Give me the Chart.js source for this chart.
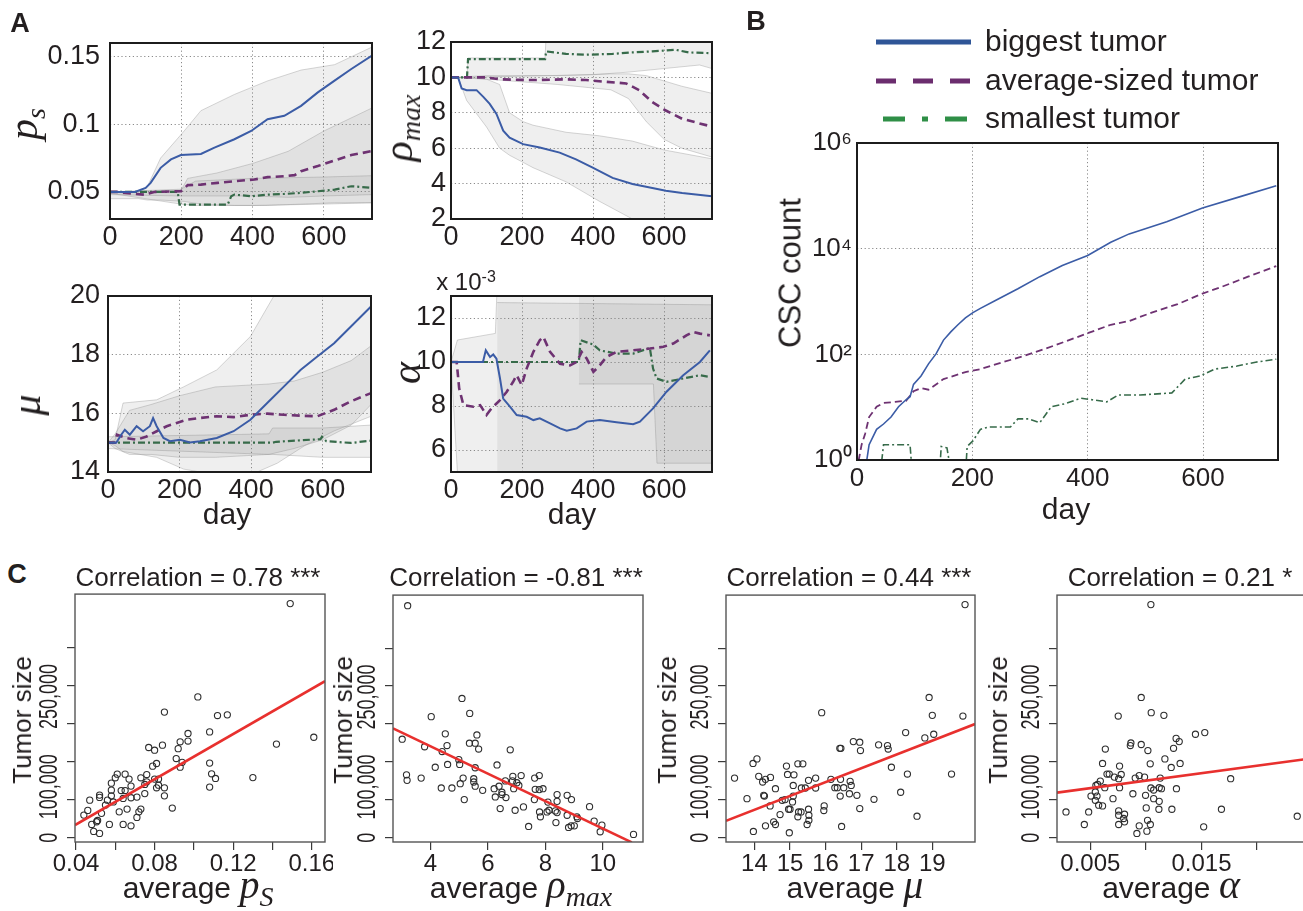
<!DOCTYPE html>
<html><head><meta charset="utf-8">
<script src="https://cdn.jsdelivr.net/npm/chart.js@4.4.1/dist/chart.umd.min.js"></script>
<style>
html,body{margin:0;padding:0;background:#fff;width:1303px;height:911px;overflow:hidden;position:relative;font-family:"Liberation Sans",Arial,Helvetica,sans-serif;color:#231f20}
canvas{position:absolute}
.t{position:absolute;white-space:nowrap;transform:translate(-50%,-50%);line-height:1;z-index:5}
.r{transform:translate(-50%,-50%) rotate(-90deg)}
.m{font-family:"Liberation Serif","DejaVu Serif","Times New Roman",serif;font-style:italic;line-height:0}
.sb{position:relative;top:0.3em}
.sp{position:relative;top:-0.5em}
.b{font-weight:bold}
</style></head><body>
<script>
// ---------------- DATA ----------------
const panelLetters = ['A', 'B', 'C'];
const legendLabels = ['biggest tumor', 'average-sized tumor', 'smallest tumor'];
const cTitles = ['Correlation = 0.78 ***', 'Correlation = -0.81 ***', 'Correlation = 0.44 ***', 'Correlation = 0.21 *'];

const dayTicks = [0, 200, 400, 600];
const dayLabels = ['0', '200', '400', '600'];

// A: p_s
const psTicks = [0.05, 0.1, 0.15];
const psTickLabels = ['0.05', '0.1', '0.15'];
const psBigDay = [0, 70, 100, 114, 142, 171, 199, 227, 255, 293, 349, 396, 442, 489, 536, 583, 630, 677, 735];
const psBigVal = [0.050, 0.050, 0.053, 0.0567, 0.0678, 0.074, 0.0772, 0.0777, 0.078, 0.0827, 0.0889, 0.095, 0.1037, 0.1062, 0.1136, 0.1235, 0.1322, 0.1408, 0.1507];
const psAvgDay = [0, 20, 60, 96, 124, 199, 218, 255, 302, 349, 405, 442, 489, 518, 536, 583, 630, 677, 735];
const psAvgVal = [0.050, 0.050, 0.0488, 0.048, 0.050, 0.0505, 0.055, 0.0554, 0.0567, 0.0579, 0.0592, 0.0609, 0.0616, 0.0624, 0.0653, 0.0691, 0.0733, 0.0772, 0.0802];
const psSmDay = [0, 190, 195, 330, 340, 349, 396, 442, 489, 536, 583, 630, 677, 735];
const psSmVal = [0.050, 0.050, 0.0406, 0.0406, 0.0468, 0.048, 0.0468, 0.048, 0.0485, 0.0493, 0.0505, 0.0517, 0.0542, 0.053];
const psBandBigDay = [0, 80, 105, 142, 208, 255, 349, 442, 536, 630, 735];
const psBandBigHi = [0.050, 0.050, 0.054, 0.075, 0.095, 0.110, 0.122, 0.132, 0.140, 0.144, 0.157];
const psBandBigLo = [0.045, 0.045, 0.044, 0.044, 0.043, 0.041, 0.040, 0.040, 0.041, 0.042, 0.042];
const psBandAvgDay = [0, 199, 218, 300, 400, 500, 600, 735];
const psBandAvgHi = [0.050, 0.051, 0.060, 0.064, 0.071, 0.080, 0.095, 0.112];
const psBandAvgLo = [0.048, 0.047, 0.047, 0.047, 0.047, 0.046, 0.047, 0.048];
const psBandSmDay = [0, 199, 240, 400, 600, 735];
const psBandSmHi = [0.050, 0.052, 0.058, 0.060, 0.061, 0.062];
const psBandSmLo = [0.049, 0.041, 0.040, 0.040, 0.041, 0.042];

// A: rho_max
const rhoTicks = [2, 4, 6, 8, 10, 12];
const rhoTickLabels = ['2', '4', '6', '8', '10', '12'];
const rhoBigDay = [0, 20, 30, 44, 72, 91, 109, 128, 147, 165, 203, 250, 306, 352, 399, 455, 511, 567, 605, 651, 735];
const rhoBigVal = [10, 10, 9.37, 9.28, 9.28, 8.9, 8.5, 7.94, 6.99, 6.6, 6.23, 6.04, 5.75, 5.37, 4.9, 4.32, 3.98, 3.75, 3.6, 3.47, 3.28];
const rhoAvgDay = [0, 100, 137, 231, 324, 380, 436, 493, 530, 567, 605, 651, 698, 735];
const rhoAvgVal = [10, 10, 9.89, 9.85, 9.89, 9.85, 9.75, 9.66, 9.28, 8.6, 8.13, 7.66, 7.41, 7.22];
const rhoSmDay = [0, 45, 48, 265, 268, 324, 380, 455, 511, 567, 605, 633, 670, 735];
const rhoSmVal = [10, 10, 11.03, 11.03, 11.47, 11.33, 11.28, 11.33, 11.41, 11.47, 11.52, 11.56, 11.41, 11.37];
const rhoBandBigDay = [0, 20, 44, 100, 137, 165, 203, 231, 324, 418, 511, 600, 735];
const rhoBandBigHi = [10, 10, 10, 9.9, 9.6, 8.0, 7.5, 7.3, 6.9, 6.7, 6.4, 5.9, 5.4];
const rhoBandBigLo = [10, 10, 8.7, 7.2, 6.0, 5.6, 5.2, 4.9, 4.1, 3.0, 2.0, 1.5, 1.5];
const rhoBandAvgDay = [0, 100, 300, 450, 500, 550, 600, 650, 735];
const rhoBandAvgHi = [10, 10.1, 10.1, 10.2, 10.2, 10.1, 9.8, 9.5, 9.1];
const rhoBandAvgLo = [10, 9.9, 9.6, 9.3, 8.8, 7.5, 6.5, 6.0, 5.5];
const rhoBandSmDay = [0, 45, 48, 265, 268, 400, 500, 600, 700, 735];
const rhoBandSmHi = [10, 10, 11.1, 11.1, 12.5, 12.5, 12.5, 12.5, 12.5, 12.5];
const rhoBandSmLo = [10, 10, 10.0, 10.1, 10.1, 10.15, 10.3, 10.5, 10.7, 10.5];

// A: mu
const muTicks = [14, 16, 18, 20];
const muTickLabels = ['14', '16', '18', '20'];
const muBigDay = [0, 23, 37, 47, 61, 80, 98, 117, 126, 136, 155, 173, 201, 229, 257, 304, 351, 398, 445, 492, 538, 585, 632, 679, 735];
const muBigVal = [15, 15, 15.27, 15.44, 15.27, 15.56, 15.39, 15.56, 15.84, 15.56, 15.16, 15.05, 15.1, 15.01, 15.05, 15.16, 15.39, 15.78, 16.35, 16.92, 17.48, 17.94, 18.39, 18.96, 19.64];
const muAvgDay = [0, 19, 25, 51, 80, 108, 136, 164, 192, 220, 257, 304, 351, 398, 445, 492, 538, 585, 604, 632, 679, 735];
const muAvgVal = [15, 15, 15.27, 15.16, 15.1, 15.21, 15.39, 15.56, 15.67, 15.78, 15.84, 15.9, 15.87, 15.95, 15.99, 15.95, 15.92, 15.9, 15.99, 16.12, 16.41, 16.69];
const muSmDay = [0, 460, 470, 538, 594, 598, 610, 679, 735];
const muSmVal = [15, 15, 15.03, 15.08, 15.12, 15.2, 15.05, 14.99, 15.07];
const muBandBigDay = [0, 20, 42, 136, 211, 304, 398, 473, 550, 632, 735];
const muBandBigHi = [15, 15.1, 16.35, 16.46, 16.9, 17.48, 18.62, 20.2, 20.5, 20.5, 20.5];
const muBandBigLo = [15, 14.9, 14.7, 14.5, 14.1, 13.9, 13.9, 14.3, 14.9, 15.4, 15.9];
const muBandAvgDay = [0, 20, 60, 120, 200, 300, 450, 520, 600, 680, 735];
const muBandAvgHi = [15, 15.3, 16.1, 16.3, 16.6, 16.9, 17.0, 17.1, 17.4, 17.8, 18.3];
const muBandAvgLo = [15, 14.8, 14.6, 14.6, 14.5, 14.5, 14.6, 14.8, 15.1, 15.6, 16.3];
const muBandSmDay = [0, 450, 460, 600, 735];
const muBandSmHi = [15.2, 15.3, 15.5, 15.5, 15.6];
const muBandSmLo = [14.8, 14.6, 14.6, 14.5, 14.5];

// A: alpha (x 10^-3)
const alTicks = [6, 8, 10, 12];
const alTickLabels = ['6', '8', '10', '12'];
const alBigDay = [0, 90, 98, 110, 119, 128, 138, 147, 166, 185, 213, 232, 250, 279, 307, 326, 354, 382, 419, 466, 513, 532, 569, 607, 654, 701, 729];
const alBigVal = [10, 10, 10.53, 10.23, 10.34, 10.15, 9.25, 8.34, 7.97, 7.59, 7.51, 7.36, 7.44, 7.21, 6.98, 6.88, 6.98, 7.29, 7.36, 7.26, 7.17, 7.29, 7.89, 8.65, 9.4, 10, 10.53];
const alAvgDay = [0, 16, 23, 35, 63, 82, 100, 114, 138, 157, 175, 185, 199, 213, 232, 250, 260, 279, 307, 335, 354, 368, 382, 401, 419, 438, 466, 513, 560, 598, 626, 663, 682, 701, 729];
const alAvgVal = [10, 10, 8.8, 8.04, 7.97, 8.04, 7.59, 7.89, 8.27, 8.65, 9.1, 9.4, 8.95, 9.7, 10.46, 10.99, 11.14, 10.46, 9.92, 9.85, 10, 10.46, 10.16, 9.55, 9.85, 10.23, 10.46, 10.53, 10.61, 10.69, 10.84, 11.21, 11.37, 11.29, 11.21];
const alSmDay = [0, 360, 365, 401, 419, 466, 513, 560, 569, 579, 607, 654, 701, 729];
const alSmVal = [10, 10, 10.99, 10.79, 10.53, 10.38, 10.38, 10.64, 9.7, 9.25, 9.1, 9.25, 9.4, 9.32];
const alBandBigDay = [0, 18, 125, 130, 735];
const alBandBigHi = [10, 11.0, 11.3, 13.5, 13.5];
const alBandBigLo = [10, 5.0, 4.5, 4.5, 4.5];
const alBandAvgDay = [130, 135, 735];
const alBandAvgHi = [12.7, 12.7, 12.6];
const alBandAvgLo = [4.5, 4.5, 4.5];
const alBandSmDay = [360, 365, 570, 580, 735];
const alBandSmHi = [13.5, 13.5, 13.5, 13.5, 13.5];
const alBandSmLo = [9.0, 9.0, 9.0, 5.4, 5.4];

// B: CSC count (log)
const bYTicks = [1, 100, 10000, 1000000];
const bYLabels = ['10\u2070', '10\u00b2', '10\u2074', '10\u2076'];
const bBigDay = [16, 17, 21, 34, 46, 59, 72, 85, 92, 98, 111, 124, 137, 150, 163, 175, 188, 201, 214, 240, 279, 317, 356, 400, 440, 472, 537, 599, 666, 727];
const bBigVal = [0.6, 1, 1.95, 3.8, 4.8, 6.5, 10.2, 13.8, 15.8, 27, 39, 66, 102, 186, 269, 363, 490, 617, 741, 1047, 1738, 2951, 4786, 7413, 13183, 19055, 32359, 58884, 97724, 154882];
const bAvgDay = [1, 3, 8, 14, 21, 34, 46, 66, 85, 98, 111, 124, 150, 188, 214, 253, 292, 343, 400, 440, 472, 511, 556, 599, 633, 678, 727];
const bAvgVal = [0.6, 1, 1.95, 3.1, 6.5, 10.2, 12, 12.6, 13.2, 20, 23, 21.4, 34, 46, 52.5, 71, 95, 148, 251, 363, 427, 617, 891, 1413, 1905, 2951, 4677];
const bSmDay = [40, 46, 92, 96, 143, 146, 156, 164, 188, 191, 201, 214, 227, 266, 279, 298, 317, 337, 362, 388, 408, 433, 453, 491, 546, 569, 595, 620, 659, 691, 727];
const bSmVal = [0.5, 1.95, 1.95, 0.5, 0.5, 1.8, 1.7, 0.5, 0.5, 1.8, 2.3, 3.8, 4.2, 4.2, 6, 6, 5.1, 10.2, 11.7, 14.8, 13.8, 12.6, 17, 17, 18.6, 34, 39, 52.5, 60, 71, 81];

// C: scatter (x = average parameter, y = tumor size)
const cYTicks = [0, 50000, 100000, 150000, 200000, 250000];
const cYLabelPos = [0, 67000, 185500];
const cYLabels = ['0', '100,000', '250,000'];
const c1XTicks = [0.04, 0.06, 0.08, 0.10, 0.12, 0.14, 0.16];
const c1XLabels = ['0.04', '', '0.08', '', '0.12', '', '0.16'];
const c2XTicks = [4, 6, 8, 10];
const c2XLabels = ['4', '6', '8', '10'];
const c3XTicks = [14, 15, 16, 17, 18, 19];
const c3XLabels = ['14', '15', '16', '17', '18', '19'];
const c4XTicks = [0.005, 0.010, 0.015, 0.020];
const c4XLabels = ['0.005', '', '0.015', ''];

const c1Points = [[0.149,307500],[0.102,185000],[0.085,165000],[0.112,160500],[0.117,161400],[0.161,132000],[0.142,123000],[0.108,139000],[0.097,137000],[0.097,127000],[0.093,126000],[0.092,117000],[0.084,121600],[0.077,118500],[0.080,115000],[0.091,104000],[0.094,99000],[0.093,92700],[0.081,97500],[0.079,94000],[0.108,98000],[0.109,84000],[0.111,77900],[0.108,66500],[0.130,79000],[0.076,83000],[0.073,78700],[0.080,77000],[0.082,77000],[0.082,69000],[0.081,65600],[0.085,65600],[0.075,70000],[0.075,58000],[0.085,55000],[0.089,39000],[0.065,83500],[0.061,83500],[0.067,77000],[0.068,67800],[0.060,78700],[0.058,71700],[0.058,62500],[0.063,62000],[0.065,62000],[0.058,55000],[0.056,49400],[0.055,42900],[0.053,32000],[0.051,22700],[0.048,17500],[0.049,8300],[0.052,5700],[0.057,17500],[0.064,17500],[0.068,15700],[0.062,34000],[0.066,37600],[0.071,26700],[0.072,34000],[0.073,37600],[0.068,52500],[0.071,53400],[0.064,51600],[0.052,56000],[0.052,53000],[0.047,49400],[0.046,35900],[0.044,29700],[0.059,47000],[0.0505,21000],[0.076,73500]];
const c2Points = [[3.21,306000],[5.10,183700],[5.37,164000],[4.03,159700],[4.52,137000],[3.02,130000],[3.80,120000],[4.58,121600],[5.36,124700],[5.56,124700],[5.62,135600],[5.68,117000],[6.78,116000],[4.41,113700],[4.99,103000],[5.02,96700],[4.17,93000],[4.60,96700],[5.56,92300],[6.32,96000],[3.17,83000],[3.19,75700],[3.68,78700],[5.14,78700],[5.51,77900],[5.51,73500],[5.56,68000],[5.04,71300],[5.82,62500],[4.38,65600],[4.75,65600],[5.18,50300],[6.22,64700],[6.39,68000],[6.49,60000],[6.26,53800],[6.63,53000],[6.49,57000],[6.61,75000],[6.87,81000],[6.86,75000],[7.01,72600],[7.08,69000],[6.90,64700],[7.16,82000],[6.43,38500],[6.95,36300],[7.24,40700],[7.42,14900],[7.63,78700],[7.79,82000],[7.65,63900],[7.79,63500],[7.92,64700],[7.62,50300],[7.80,34000],[7.83,27600],[8.09,47000],[8.13,36300],[8.35,35400],[8.41,33200],[8.37,20000],[8.41,56900],[8.41,48000],[8.76,56000],[8.91,50300],[8.76,29700],[8.81,13600],[8.90,15700],[9.01,15700],[9.10,27600],[9.12,25400],[9.54,41000],[9.70,21900],[9.97,16600],[9.91,7900],[11.07,4400],[8.06,34000]];
const c3Points = [[19.92,307500],[18.91,185000],[15.89,165000],[19.0,161400],[19.86,160500],[18.25,138700],[18.79,131700],[19.04,136500],[16.78,126800],[16.96,126000],[16.40,118000],[16.98,115000],[17.49,122500],[17.74,121600],[17.76,117000],[17.85,93000],[18.30,84000],[19.54,84000],[18.11,60000],[18.57,28400],[17.36,50700],[16.96,38500],[13.44,78700],[13.79,51600],[13.96,98000],[14.07,104000],[14.12,81000],[14.23,73500],[14.31,77000],[14.45,79600],[14.26,56000],[14.28,55000],[14.44,42000],[14.59,64700],[14.31,15700],[14.54,21000],[14.59,17500],[13.97,8300],[14.72,30600],[14.78,49400],[14.86,50300],[14.90,94500],[14.93,83500],[14.96,37600],[15.0,37600],[14.98,6600],[15.07,47200],[15.09,69000],[15.11,83000],[15.09,55000],[15.22,97500],[15.36,97500],[15.22,27600],[15.24,34000],[15.31,34000],[15.32,65600],[15.43,65600],[15.48,17500],[15.52,37600],[15.53,23000],[15.53,29700],[15.52,75700],[15.72,78700],[15.72,65600],[15.96,42000],[15.95,35900],[16.15,77000],[16.26,66000],[16.33,66000],[16.41,55000],[16.42,77000],[16.45,14900],[16.51,66000],[16.67,58000],[16.69,74400],[16.72,69000],[16.43,118000],[16.88,56000]];
const c4Points = [[0.01045,307500],[0.00958,185000],[0.01048,165000],[0.00751,160500],[0.01162,161400],[0.01446,136500],[0.0153,138700],[0.01272,131000],[0.013,126800],[0.01249,118000],[0.00865,125000],[0.0086,121600],[0.00958,123000],[0.01018,115000],[0.00635,117000],[0.01171,104000],[0.01039,97500],[0.01308,98000],[0.01228,92700],[0.0061,98000],[0.00763,94500],[0.0065,84000],[0.0067,84000],[0.00778,83500],[0.00716,80000],[0.00755,77900],[0.00904,78700],[0.0094,82000],[0.00988,80000],[0.01129,78700],[0.01763,77900],[0.00566,70400],[0.0059,74800],[0.0055,69000],[0.0063,66000],[0.00763,66000],[0.01045,65600],[0.0107,63000],[0.0112,66000],[0.0114,64700],[0.01275,64700],[0.00545,60400],[0.00506,55000],[0.0056,55000],[0.00545,49400],[0.00575,42900],[0.0061,42000],[0.00704,51600],[0.00883,58000],[0.00997,56000],[0.0107,51600],[0.0112,48000],[0.01003,39400],[0.01117,37600],[0.01234,37600],[0.00755,35400],[0.00755,29700],[0.00808,31000],[0.008,25400],[0.00808,21000],[0.00755,17500],[0.0094,15700],[0.00919,5700],[0.01009,8700],[0.01015,23000],[0.0104,17500],[0.00446,17500],[0.00485,34000],[0.00281,34000],[0.0152,14400],[0.0168,37600],[0.02362,28400]];
const c1Line = [[0.0395,16600],[0.1667,205600]];
const c2Line = [[2.70,144300],[11.01,-6100]];
const c3Line = [[13.2,22300],[20.2,150000]];
const c4Line = [[0.002,59500],[0.0245,103900]];

// ---------------- STYLE / HELPERS ----------------
const SANS = '"Liberation Sans", Arial, Helvetica, sans-serif';
const INK = '#231f20';
const GRID = '#8a8a8a';
const BLUE = '#3b5ca6', PURPLE = '#6e3272', GREEN = '#376b4a';
const BAND_FILL = 'rgba(130,130,130,0.13)', BAND_EDGE = 'rgba(140,140,140,0.45)';

function pts(xs, ys) { return xs.map((x, i) => ({x: x, y: ys[i]})); }
function pairPts(arr) { return arr.map(p => ({x: p[0], y: p[1]})); }
function zeroPad(s) { s.paddingLeft = 0; s.paddingRight = 0; s.paddingTop = 0; s.paddingBottom = 0; }

function makeCanvas(id, box, m) {
  const c = document.createElement('canvas');
  c.id = id;
  const W = (box.r - box.l) + m.l + m.r, H = (box.b - box.t) + m.t + m.b;
  c.width = W; c.height = H;
  c.style.left = (box.l - m.l) + 'px'; c.style.top = (box.t - m.t) + 'px';
  c.style.width = W + 'px'; c.style.height = H + 'px';
  document.body.appendChild(c);
  return c;
}
function framePlugin(color, width) {
  return { id: 'frame', afterDraw(chart) {
    const a = chart.chartArea, ctx = chart.ctx;
    ctx.save(); ctx.setLineDash([]); ctx.strokeStyle = color; ctx.lineWidth = width;
    ctx.strokeRect(a.left, a.top, a.right - a.left, a.bottom - a.top); ctx.restore();
  }};
}

function seriesChart(id, box, m, yW, xH, xMax, y, lines, bands, fs, extraPlugins) {
  const cv = makeCanvas(id, box, m);
  const ds = [];
  lines.forEach(l => ds.push({data: pts(l.days, l.vals), borderColor: l.color, borderWidth: l.width,
    borderDash: l.dash || [], pointRadius: 0, fill: false, order: 0, tension: 0}));
  bands.forEach(b => {
    ds.push({data: pts(b.days, b.hi), borderColor: BAND_EDGE, borderWidth: 0.8, pointRadius: 0, fill: false, order: 5});
    ds.push({data: pts(b.days, b.lo), borderColor: BAND_EDGE, borderWidth: 0.8, pointRadius: 0, fill: '-1', backgroundColor: BAND_FILL, order: 5});
  });
  new Chart(cv, {
    type: 'line',
    data: {datasets: ds},
    options: {
      responsive: false, animation: false, events: [],
      layout: {padding: {left: m.l - yW, top: m.t, right: m.r, bottom: m.b - xH}},
      plugins: {legend: {display: false}, tooltip: {enabled: false}},
      scales: {
        x: {type: 'linear', min: 0, max: xMax,
          afterBuildTicks: s => { s.ticks = dayTicks.map(v => ({value: v})); },
          afterFit: s => { s.height = xH; zeroPad(s); },
          ticks: {autoSkip: false, maxRotation: 0, minRotation: 0, padding: y.xPad, color: INK,
            font: {family: SANS, size: fs}, callback: (v, i) => dayLabels[i]},
          grid: {color: GRID, lineWidth: 1, drawTicks: false},
          border: {display: false, dash: [1.2, 2.6]}},
        y: {type: y.type || 'linear', min: y.min, max: y.max,
          afterBuildTicks: s => { s.ticks = y.ticks.map(v => ({value: v})); },
          afterFit: s => { s.width = yW; zeroPad(s); },
          ticks: {autoSkip: false, padding: y.pad, color: INK, font: {family: SANS, size: fs},
            callback: (v, i) => y.labels[i]},
          grid: {color: GRID, lineWidth: 1, drawTicks: false},
          border: {display: false, dash: [1.2, 2.6]}}
      }
    },
    plugins: [framePlugin('#1c1c1c', 2)].concat(extraPlugins || [])
  });
}

function rotYLabels(values, labels, offset, font, squeeze) {
  return { id: 'rotY', afterDraw(chart) {
    const ctx = chart.ctx, sc = chart.scales.y, a = chart.chartArea;
    ctx.save(); ctx.font = font; ctx.fillStyle = INK; ctx.textAlign = 'center'; ctx.textBaseline = 'middle';
    values.forEach((v, i) => {
      ctx.save(); ctx.translate(a.left - offset, sc.getPixelForValue(v)); ctx.rotate(-Math.PI / 2);
      ctx.scale(squeeze, 1);
      ctx.fillText(labels[i], 0, 0); ctx.restore();
    });
    ctx.restore();
  }};
}

function scatterChart(id, box, m, xMin, xMax, xTicks, xLabels, points, line) {
  const cv = makeCanvas(id, box, m);
  const yW = 50, xH = 40;
  new Chart(cv, {
    type: 'scatter',
    data: {datasets: [
      {data: pairPts(line), showLine: true, borderColor: '#e8302e', borderWidth: 2.6, pointRadius: 0, fill: false},
      {data: pairPts(points), pointRadius: 3.1, pointBorderWidth: 1.1, borderColor: '#2e2e2e',
        backgroundColor: 'rgba(0,0,0,0)', pointBackgroundColor: 'rgba(0,0,0,0)', pointBorderColor: '#2e2e2e'}
    ]},
    options: {
      responsive: false, animation: false, events: [],
      layout: {padding: {left: m.l - yW, top: m.t, right: m.r, bottom: m.b - xH}},
      plugins: {legend: {display: false}, tooltip: {enabled: false}},
      scales: {
        x: {type: 'linear', min: xMin, max: xMax,
          afterBuildTicks: s => { s.ticks = xTicks.map(v => ({value: v})); },
          afterFit: s => { s.height = xH; zeroPad(s); },
          ticks: {autoSkip: false, maxRotation: 0, minRotation: 0, padding: 0, color: INK,
            font: {family: SANS, size: 24}, callback: (v, i) => xLabels[i]},
          grid: {drawOnChartArea: false, drawTicks: true, tickLength: 8, color: '#3a3a3a', lineWidth: 1.2},
          border: {display: false}},
        y: {type: 'linear', min: -5600, max: 320000,
          afterBuildTicks: s => { s.ticks = cYTicks.map(v => ({value: v})); },
          afterFit: s => { s.width = yW; zeroPad(s); },
          ticks: {autoSkip: false, callback: () => ''},
          grid: {drawOnChartArea: false, drawTicks: true, tickLength: 8, color: '#3a3a3a', lineWidth: 1.2},
          border: {display: false}}
      }
    },
    plugins: [framePlugin('#555555', 1.4), rotYLabels(cYLabelPos, cYLabels, 25, '25px ' + SANS, 0.72)]
  });
}

const lineA = (days, vals, kind) => kind === 0 ? {days, vals, color: BLUE, width: 2}
  : kind === 1 ? {days, vals, color: PURPLE, width: 2.6, dash: [8, 5]}
  : {days, vals, color: GREEN, width: 2.2, dash: [7, 3, 2, 3]};

// ---------------- PANEL A ----------------
seriesChart('a1', {l: 110, t: 43, r: 372, b: 219}, {l: 110, t: 15, r: 12, b: 45}, 75, 40, 735,
  {min: 0.03, max: 0.16, ticks: psTicks, labels: psTickLabels, pad: 10, xPad: 2},
  [lineA(psBigDay, psBigVal, 0), lineA(psAvgDay, psAvgVal, 1), lineA(psSmDay, psSmVal, 2)],
  [{days: psBandBigDay, hi: psBandBigHi, lo: psBandBigLo}, {days: psBandAvgDay, hi: psBandAvgHi, lo: psBandAvgLo}, {days: psBandSmDay, hi: psBandSmHi, lo: psBandSmLo}], 27);

seriesChart('a2', {l: 451, t: 42, r: 712, b: 219}, {l: 75, t: 15, r: 12, b: 45}, 60, 40, 735,
  {min: 2, max: 12, ticks: rhoTicks, labels: rhoTickLabels, pad: 5, xPad: 2},
  [lineA(rhoBigDay, rhoBigVal, 0), lineA(rhoAvgDay, rhoAvgVal, 1), lineA(rhoSmDay, rhoSmVal, 2)],
  [{days: rhoBandBigDay, hi: rhoBandBigHi, lo: rhoBandBigLo}, {days: rhoBandAvgDay, hi: rhoBandAvgHi, lo: rhoBandAvgLo}, {days: rhoBandSmDay, hi: rhoBandSmHi, lo: rhoBandSmLo}], 27);

seriesChart('a3', {l: 108, t: 296, r: 371, b: 472}, {l: 108, t: 15, r: 12, b: 45}, 75, 40, 735,
  {min: 14, max: 20, ticks: muTicks, labels: muTickLabels, pad: 8, xPad: 2},
  [lineA(muBigDay, muBigVal, 0), lineA(muAvgDay, muAvgVal, 1), lineA(muSmDay, muSmVal, 2)],
  [{days: muBandBigDay, hi: muBandBigHi, lo: muBandBigLo}, {days: muBandAvgDay, hi: muBandAvgHi, lo: muBandAvgLo}, {days: muBandSmDay, hi: muBandSmHi, lo: muBandSmLo}], 27);

seriesChart('a4', {l: 451, t: 296, r: 712, b: 472}, {l: 75, t: 15, r: 12, b: 45}, 60, 40, 735,
  {min: 5, max: 13, ticks: alTicks, labels: alTickLabels, pad: 5, xPad: 2},
  [lineA(alBigDay, alBigVal, 0), lineA(alAvgDay, alAvgVal, 1), lineA(alSmDay, alSmVal, 2)],
  [{days: alBandBigDay, hi: alBandBigHi, lo: alBandBigLo}, {days: alBandAvgDay, hi: alBandAvgHi, lo: alBandAvgLo}, {days: alBandSmDay, hi: alBandSmHi, lo: alBandSmLo}], 27);

// ---------------- PANEL B ----------------
const bLegend = { id: 'bLegend', afterDraw(chart) {
  const ctx = chart.ctx, a = chart.chartArea;
  const rows = [a.top - 101, a.top - 62, a.top - 24];
  const styles = [
    {c: '#2f5597', d: [], x0: 19, x1: 114},
    {c: '#6b2d6e', d: [20, 17], x0: 19, x1: 114},
    {c: '#2f8f47', d: [22, 17, 6, 17], x0: 26, x1: 110}
  ];
  ctx.save();
  styles.forEach((s, i) => {
    ctx.beginPath(); ctx.setLineDash(s.d); ctx.strokeStyle = s.c; ctx.lineWidth = 5; ctx.lineCap = 'butt';
    ctx.moveTo(a.left + s.x0, rows[i]); ctx.lineTo(a.left + s.x1, rows[i]); ctx.stroke();
  });
  ctx.setLineDash([]); ctx.fillStyle = INK; ctx.font = '30px ' + SANS; ctx.textAlign = 'left'; ctx.textBaseline = 'middle';
  legendLabels.forEach((t, i) => ctx.fillText(t, a.left + 128, rows[i] + 1));
  ctx.restore();
}};
seriesChart('b', {l: 857, t: 143, r: 1278, b: 460}, {l: 97, t: 143, r: 25, b: 45}, 80, 40, 730,
  {type: 'logarithmic', min: 1, max: 1000000, ticks: bYTicks, labels: bYLabels, pad: 5, xPad: 3},
  [{days: bBigDay, vals: bBigVal, color: BLUE, width: 1.6},
   {days: bAvgDay, vals: bAvgVal, color: PURPLE, width: 1.8, dash: [7, 4]},
   {days: bSmDay, vals: bSmVal, color: GREEN, width: 1.6, dash: [7, 3, 2, 3]}],
  [], 26, [bLegend]);

// ---------------- PANEL C ----------------
scatterChart('c1', {l: 75, t: 594, r: 325, b: 842}, {l: 75, t: 5, r: 8, b: 45}, 0.0395, 0.1667, c1XTicks, c1XLabels, c1Points, c1Line);
scatterChart('c2', {l: 393, t: 595, r: 643, b: 842}, {l: 60, t: 5, r: 8, b: 45}, 2.7, 11.4, c2XTicks, c2XLabels, c2Points, c2Line);
scatterChart('c3', {l: 726, t: 595, r: 975, b: 842}, {l: 60, t: 5, r: 8, b: 45}, 13.2, 20.2, c3XTicks, c3XLabels, c3Points, c3Line);
scatterChart('c4', {l: 1057, t: 595, r: 1307, b: 842}, {l: 60, t: 5, r: 8, b: 45}, 0.002, 0.0245, c4XTicks, c4XLabels, c4Points, c4Line);

// ---------------- TEXT OVERLAYS ----------------
function addText(html, cx, cy, cls, size) {
  const d = document.createElement('div');
  d.className = 't ' + (cls || '');
  d.innerHTML = html;
  d.style.left = cx + 'px'; d.style.top = cy + 'px';
  if (size) d.style.fontSize = size + 'px';
  document.body.appendChild(d);
}
const mathSpan = (s, size) => '<span class="m" style="font-size:' + size + 'px">' + s + '</span>';
const subSpan = (s, size) => '<span class="m sb" style="font-size:' + size + 'px">' + s + '</span>';

addText(panelLetters[0], 20, 23, 'b', 27);
addText(panelLetters[1], 756, 21, 'b', 27);
addText(panelLetters[2], 17, 574, 'b', 27);

addText(mathSpan('p', 42) + subSpan('s', 28), 23, 124, 'r', 42);
addText(mathSpan('\u03c1', 42) + subSpan('max', 28), 398, 128, 'r', 42);
addText(mathSpan('\u03bc', 42), 26, 405, 'r', 42);
addText(mathSpan('\u03b1', 42), 406, 373, 'r', 42);
addText('day', 227, 514, '', 30);
addText('day', 572, 514, '', 30);
addText('x 10<span class="sp" style="font-size:16px">-3</span>', 466, 282, '', 24);

addText('CSC count', 790, 273, 'r', 31);
addText('day', 1066, 509, '', 30);

const cCenters = [198, 516, 849, 1180];
cTitles.forEach((t, i) => addText(t, cCenters[i], 577, '', 26));
[22, 343, 667, 998].forEach(x => addText('Tumor size', x, 720, 'r', 26));
addText('average ' + mathSpan('p', 40) + subSpan('S', 28), 198, 888, '', 30);
addText('average ' + mathSpan('\u03c1', 40) + subSpan('max', 28), 521, 888, '', 30);
addText('average ' + mathSpan('\u03bc', 40), 855, 888, '', 30);
addText('average ' + mathSpan('\u03b1', 40), 1171, 888, '', 30);
</script>
</body></html>
